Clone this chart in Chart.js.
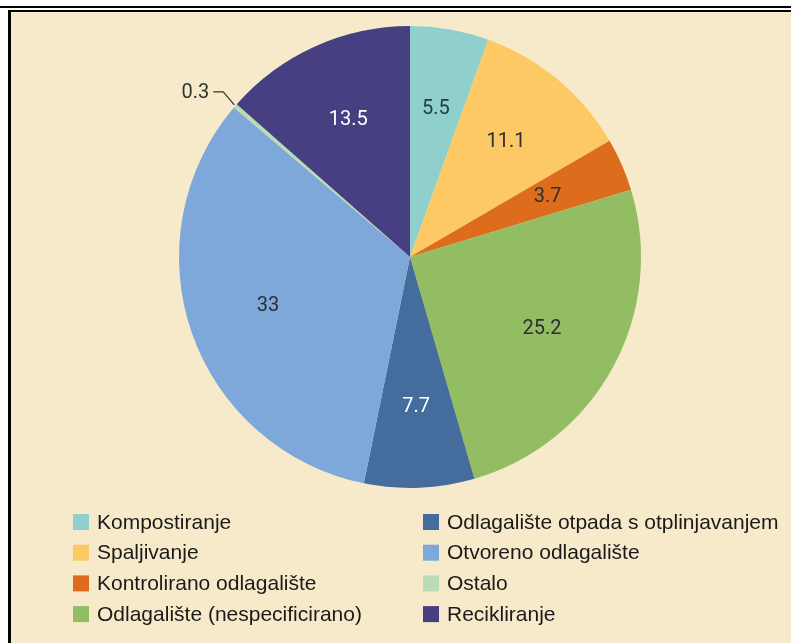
<!DOCTYPE html>
<html>
<head>
<meta charset="utf-8">
<script src="https://cdn.jsdelivr.net/npm/chart.js@4/dist/chart.umd.min.js"></script>
<style>
  body { margin: 0; background: #fff; }
  #topline { position: absolute; left: 0; top: 6px; width: 791px; height: 2px; background: #000; }
  #frame {
    position: absolute; left: 8px; top: 10px; width: 780px; height: 633px;
    border-left: 3px solid #000; border-top: 2px solid #000; background: #f6eacb;
  }
  #waste { position: absolute; left: 0; top: 0; }
</style>
</head>
<body>
<div id="topline"></div>
<div id="frame"></div>
<canvas id="waste" width="791" height="643"></canvas>
<script>
// udio pojedinog nacina zbrinjavanja otpada (%)
let labels = [
  'Kompostiranje',
  'Spaljivanje',
  'Kontrolirano odlagalište',
  'Odlagalište (nespecificirano)',
  'Odlagalište otpada s otplinjavanjem',
  'Otvoreno odlagalište',
  'Ostalo',
  'Recikliranje',
];
let values = [5.5, 11.1, 3.7, 25.2, 7.7, 33, 0.3, 13.5];

let sliceColors = [
  '#8fd0cc', '#fdc964', '#dd6c1c', '#93bd63',
  '#446c9c', '#7ea8da', '#b9dcb3', '#463f82',
];
let valueColors = [
  '#24403e', '#2f2f2f', '#2f2f2f', '#2f2f2f',
  '#ffffff', '#2f2f2f', '#2f2f2f', '#ffffff',
];

// vrijednosti unutar kriski, mala kriska dobiva oznaku sa strane
let sliceLabels = {
  id: 'sliceLabels',
  afterDatasetsDraw(chart) {
    let ctx = chart.ctx;
    let arcs = chart.getDatasetMeta(0).data;
    ctx.save();
    ctx.font = '20px Roboto';
    ctx.textAlign = 'center';
    ctx.textBaseline = 'middle';
    arcs.forEach((arc, i) => {
      let mid = (arc.startAngle + arc.endAngle) / 2;
      let text = String(values[i]);
      if (values[i] < 1) {
        let ex = arc.x + Math.cos(mid) * arc.outerRadius;
        let ey = arc.y + Math.sin(mid) * arc.outerRadius;
        ctx.strokeStyle = '#333';
        ctx.lineWidth = 1.2;
        ctx.beginPath();
        ctx.moveTo(ex - 1, ey - 1);
        ctx.lineTo(ex - 12, ey - 14);
        ctx.lineTo(ex - 22, ey - 14);
        ctx.stroke();
        ctx.fillStyle = '#333';
        ctx.textAlign = 'right';
        ctx.fillText(text, ex - 26, ey - 13);
        ctx.textAlign = 'center';
        return;
      }
      let r = arc.outerRadius * 0.65;
      ctx.fillStyle = valueColors[i];
      ctx.fillText(text, arc.x + Math.cos(mid) * r, arc.y + Math.sin(mid) * r);
    });
    ctx.restore();
  }
};

// legenda u dva stupca
let columnLegend = {
  id: 'columnLegend',
  afterDraw(chart) {
    let ctx = chart.ctx;
    ctx.save();
    ctx.font = '21px "Liberation Sans", Arial, sans-serif';
    ctx.textBaseline = 'middle';
    labels.forEach((label, i) => {
      let col = Math.floor(i / 4);
      let row = i % 4;
      let x = col === 0 ? 73 : 423;
      let y = 522 + row * 30.7;
      ctx.fillStyle = sliceColors[i];
      ctx.fillRect(x, y - 8, 16, 16);
      ctx.fillStyle = '#1a1a1a';
      ctx.fillText(label, x + 24, y + 1);
    });
    ctx.restore();
  }
};

new Chart(document.getElementById('waste'), {
  type: 'pie',
  data: {
    labels: labels,
    datasets: [{
      data: values,
      backgroundColor: sliceColors,
      borderWidth: 0,
    }],
  },
  options: {
    responsive: false,
    animation: false,
    layout: { padding: { top: 26, bottom: 155, left: 179, right: 150 } },
    plugins: {
      legend: { display: false },
      tooltip: { enabled: false },
    },
  },
  plugins: [sliceLabels, columnLegend],
});
</script>
</body>
</html>
